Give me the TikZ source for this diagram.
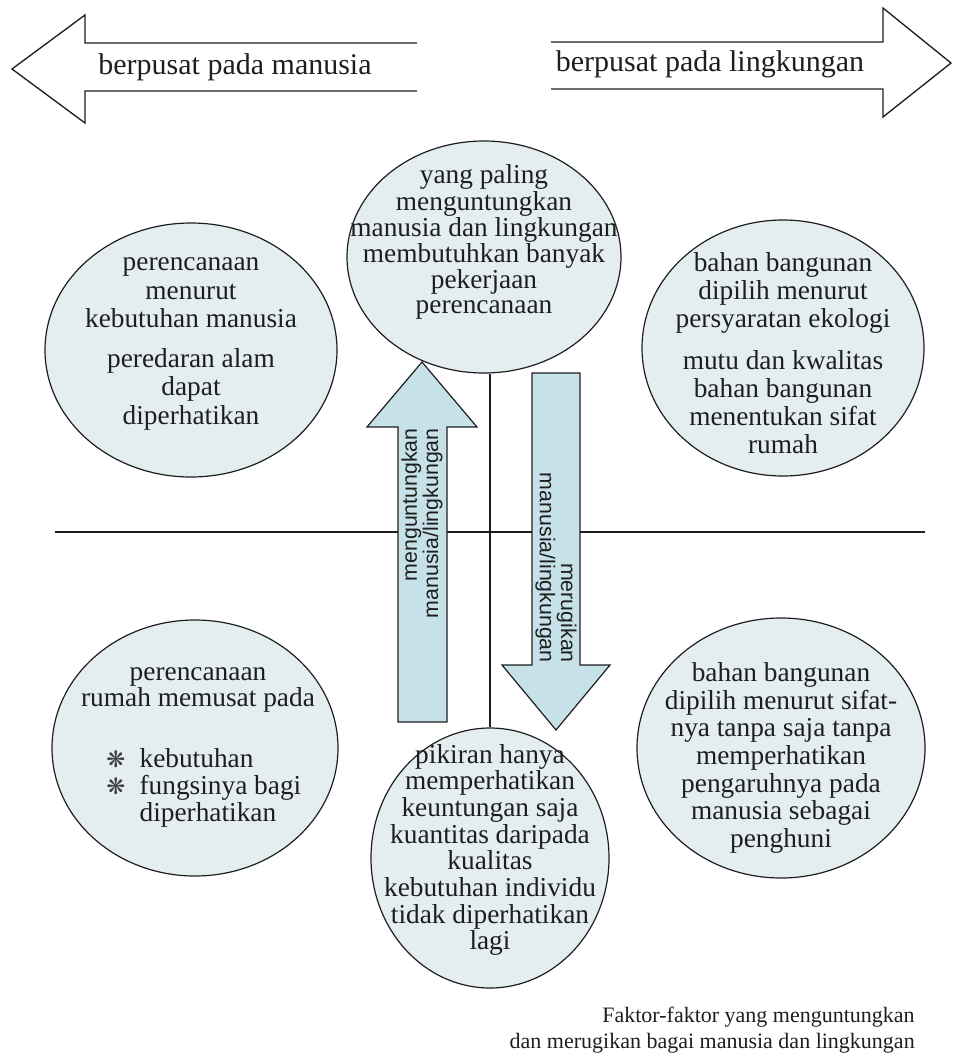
\documentclass[tikz,border=0pt]{standalone}
\usepackage{fontspec}
\setmainfont{Liberation Serif}
\newfontfamily\arrowfont{Liberation Sans}
\newfontfamily\symfont{DejaVu Sans}
\usetikzlibrary{shapes.geometric}
\definecolor{bubfill}{HTML}{E4EEF1}
\definecolor{arrfill}{HTML}{C6E1E8}
\definecolor{ink}{HTML}{1E1E1E}
\newcommand{\bul}{{\symfont\fontsize{17}{17}\selectfont\color{ink!85}❋}}
\tikzset{
  bub/.style 2 args={ellipse, draw=ink, line width=0.9pt, fill=bubfill,
    minimum width={2*#1*0.75pt}, minimum height={2*#2*0.75pt}, inner sep=0pt},
  txt/.style={align=center, inner sep=0pt, text=ink,
    font=\fontsize{20.5}{21}\selectfont},
  toptxt/.style={inner sep=0pt, text=ink, font=\fontsize{22.5}{24}\selectfont},
  rottxt/.style={align=right, inner sep=0pt, text=ink,
    font=\arrowfont\fontsize{16}{14.2}\selectfont},
  outline/.style={draw=ink, line width=1pt, line join=miter},
  blockarrow/.style={draw=ink, line width=0.9pt, fill=arrfill, line join=miter},
  rule/.style={draw=ink, line width=1pt}
}
\begin{document}
\begin{tikzpicture}[x=0.75pt,y=-0.75pt]
\useasboundingbox (0,0) rectangle (956,1058);

% top open arrows
\draw[outline] (417,43) -- (85,43) -- (85,15) -- (12,69) -- (85,123) -- (85,91) -- (417,91);
\draw[outline] (551,42) -- (883,42) -- (883,8) -- (951,63) -- (883,117) -- (883,89) -- (551,89);
\node[toptxt] (tlab) at (235,67) {berpusat pada manusia};
\node[toptxt] (trlab) at (710,64) {berpusat pada lingkungan};

% horizontal rule
\coordinate (hl) at (55,532);
\coordinate (hr) at (925,532);
\draw[rule] (hl) -- (hr);

% circles
\node[bub={146}{127}] (tl) at (191,350) {};
\node[bub={137}{116}] (tc) at (484,257) {};
\node[bub={141}{128}] (tr) at (783,348) {};
\node[bub={143}{128}] (bl) at (195,748) {};
\node[bub={119}{130}] (bc) at (490,858) {};
\node[bub={144}{130}] (br) at (781,748) {};

% vertical line
\draw[rule] (bc.north |- tc.south) -- (bc.north);

% block arrows
\draw[blockarrow] (398,722) -- (398,427) -- (367,427) -- (422,362) -- (477,427) -- (447,427) -- (447,722) -- cycle;
\draw[blockarrow] (532,373) -- (532,665) -- (502,665) -- (556,730) -- (610,665) -- (580,665) -- (580,373) -- cycle;
\node[rottxt, rotate=90, anchor=east] (uplab) at (422,428) {menguntungkan\\manusia/lingkungan};
\node[rottxt, rotate=-90, anchor=east] (dnlab) at (556,663) {merugikan\\manusia/lingkungan};

% circle texts
\node[txt, font=\fontsize{20.5}{21.5}\selectfont] (tltxt) at (191,344) {perencanaan\\menurut\\kebutuhan manusia\\[8pt]peredaran alam\\dapat\\diperhatikan};
\node[txt, font=\fontsize{20.5}{18.5}\selectfont] (tctxt) at (484,242) {yang paling\\menguntungkan\\manusia dan lingkungan\\membutuhkan banyak\\pekerjaan\\perencanaan};
\node[txt] (trtxt) at (783,353) {bahan bangunan\\dipilih menurut\\persyaratan ekologi\\[10pt]mutu dan kwalitas\\bahan bangunan\\menentukan sifat\\rumah};
\node[txt, font=\fontsize{20.5}{19.5}\selectfont] (bltxt) at (198,690) {perencanaan\\rumah memusat pada};
\node[txt, align=left, anchor=west, font=\fontsize{20.5}{20.5}\selectfont] (bllist) at (106,788) {%
  \makebox[25pt][l]{\bul}kebutuhan\\
  \makebox[25pt][l]{\bul}fungsinya bagi\\
  \hspace*{25pt}diperhatikan};
\node[txt, font=\fontsize{20.5}{20}\selectfont] (bctxt) at (490,850) {pikiran hanya\\memperhatikan\\keuntungan saja\\kuantitas daripada\\kualitas\\kebutuhan individu\\tidak diperhatikan\\lagi};
\node[txt, font=\fontsize{20.5}{20.7}\selectfont] (brtxt) at (781,758) {bahan bangunan\\dipilih menurut sifat-\\nya tanpa saja tanpa\\memperhatikan\\pengaruhnya pada\\manusia sebagai\\penghuni};

% caption
\node[align=right, anchor=east, inner sep=0pt, text=ink, font=\fontsize{16.5}{19}\selectfont] (cap) at (915,1030) {Faktor-faktor yang menguntungkan\\dan merugikan bagai manusia dan lingkungan};
\end{tikzpicture}
\end{document}
